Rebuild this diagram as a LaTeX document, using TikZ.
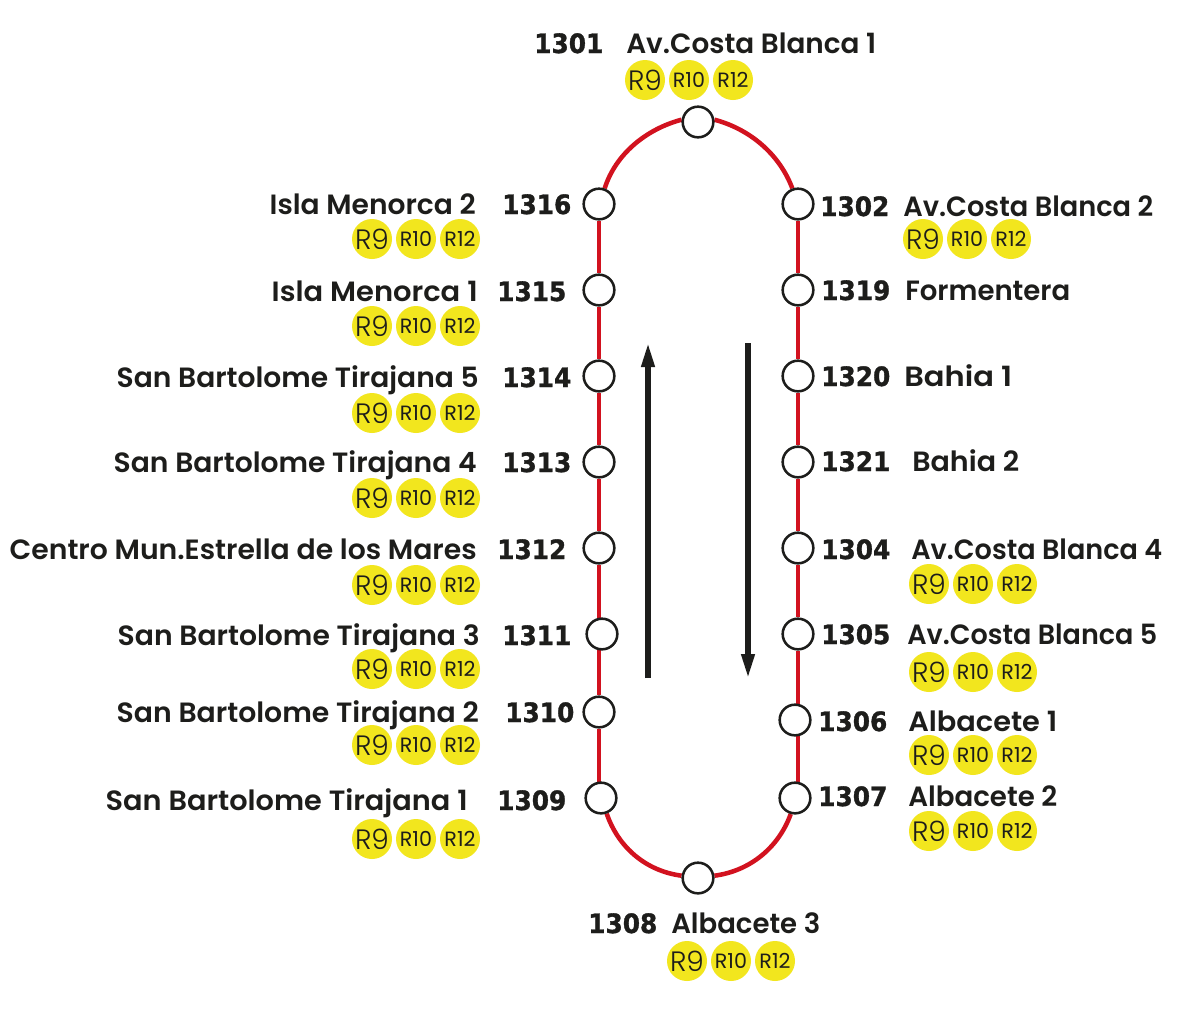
\documentclass[tikz,border=0pt]{standalone}
\usepackage{fontspec}
\usepackage{graphicx}
\setmainfont{Poppins}
\newfontfamily\namef[UprightFont={* SemiBold}]{Poppins}
\newfontfamily\numf[FakeStretch=0.93,FakeBold=1.2]{DejaVu Sans Bold}
\newfontfamily\pillf[UprightFont={* Light}]{Poppins}
\usetikzlibrary{arrows.meta,backgrounds}
\definecolor{trackred}{HTML}{D2121F}
\definecolor{pillyellow}{HTML}{F2E61E}
\definecolor{inkdark}{HTML}{1D1D1B}
\tikzset{
  x=0.75pt,y=-0.75pt,
  stop/.style={circle,draw=inkdark,fill=white,line width=1.9pt,minimum size=23pt,inner sep=0pt},
  track/.style={draw=trackred,line width=3.4pt},
  flow/.style={draw=inkdark,line width=3.8pt,-{Triangle[length=18pt,width=9.5pt]}},
  pill/.style={circle,fill=pillyellow,minimum size=30pt,inner sep=0pt,text=inkdark},
  nm/.style={font=\namef\fontsize{20.9}{24}\selectfont,text=inkdark,inner sep=0pt},
  nr/.style={font=\numf\fontsize{20}{24}\selectfont,text=inkdark,inner sep=0pt},
}
\newcommand{\pills}[3]{%
  \node[pill,font=\pillf\fontsize{21}{20}\selectfont] (p#1a) at (#2,#3) {R9};
  \node[pill,font=\fontsize{15.5}{16}\selectfont] (p#1b) at (#2+44,#3) {R10};
  \node[pill,font=\fontsize{15.5}{16}\selectfont] (p#1c) at (#2+88,#3) {R12};
}
% id, number left x, name anchor, name x, baseline, name width in px, name
\newcommand{\lab}[7]{%
  \node[nr,anchor=base west] (n#1) at (#2-1,#5-1) {#1};
  \node[nm,anchor=#3] (t#1) at (#4,#5-1) {\resizebox{#6\dimexpr 0.75pt\relax}{\height}{#7}};
}
\begin{document}
\begin{tikzpicture}
\useasboundingbox (0,0) rectangle (1194,1011);
% stops
\foreach \id/\px/\py in {1301/698/122,1316/599/204,1315/599/290,1314/599/376,1313/599/462,1312/599/548,1311/602/634,1310/599/712,1309/601/798,1308/698/878,1302/798/204,1319/798/290,1320/798/376,1321/798/462,1304/798/548,1305/798/634,1306/795/720,1307/795/798}
  {\node[stop] (s\id) at (\px,\py) {};}
\coordinate (tr1311) at (599,634);
\coordinate (tr1306) at (798,720);
\coordinate (tr1307) at (798,798);
\coordinate (tr1309) at (599,798);
\coordinate (upA) at (648,678);
\coordinate (upB) at (648,343);
\coordinate (dnA) at (748,343);
\coordinate (dnB) at (748,678);
\begin{pgfonlayer}{background}
  \fill[white] (0,0) rectangle (1194,1011);
  \draw[track] (s1316.70) .. controls (615.4,154.4) and (645.8,129.2) .. (s1301.172);
  \draw[track] (s1301.8) .. controls (750.2,129.2) and (779.6,154.4) .. (s1302.110);
  \draw[track] (s1302)--(s1319);
  \draw[track] (s1319)--(s1320);
  \draw[track] (s1320)--(s1321);
  \draw[track] (s1321)--(s1304);
  \draw[track] (s1304)--(s1305);
  \draw[track] (s1305)--(tr1306);
  \draw[track] (tr1306)--(tr1307);
  \draw[track] (s1307.-105) .. controls (778.6,847.6) and (750,871) .. (s1308.8);
  \draw[track] (s1308.172) .. controls (646,871) and (618.4,847.6) .. (s1309.-70);
  \draw[track] (tr1309)--(s1310);
  \draw[track] (s1310)--(tr1311);
  \draw[track] (tr1311)--(s1312);
  \draw[track] (s1312)--(s1313);
  \draw[track] (s1313)--(s1314);
  \draw[track] (s1314)--(s1315);
  \draw[track] (s1315)--(s1316);
\end{pgfonlayer}
\draw[flow] (upA)--(upB);
\draw[flow] (dnA)--(dnB);
% labels
\lab{1301}{535}{base west}{626}{54}{250}{Av.Costa Blanca 1}
\lab{1316}{503}{base east}{476}{215}{206}{Isla Menorca 2}
\lab{1315}{498}{base east}{478}{302}{206}{Isla Menorca 1}
\lab{1314}{503}{base east}{479}{388}{362}{San Bartolome Tirajana 5}
\lab{1313}{503}{base east}{477}{473}{363}{San Bartolome Tirajana 4}
\lab{1312}{498}{base east}{477}{560}{467}{Centro Mun.Estrella de los Mares}
\lab{1311}{503}{base east}{480}{646}{362}{San Bartolome Tirajana 3}
\lab{1310}{506}{base east}{479}{723}{362}{San Bartolome Tirajana 2}
\lab{1309}{498}{base east}{468}{811}{362}{San Bartolome Tirajana 1}
\lab{1302}{821}{base west}{903}{217}{250}{Av.Costa Blanca 2}
\lab{1319}{822}{base west}{905}{301}{165}{Formentera}
\lab{1320}{822}{base west}{904}{387}{108}{Bahia 1}
\lab{1321}{822}{base west}{912}{472}{107}{Bahia 2}
\lab{1304}{822}{base west}{911}{560}{251}{Av.Costa Blanca 4}
\lab{1305}{822}{base west}{907}{645}{250}{Av.Costa Blanca 5}
\lab{1306}{819}{base west}{908}{732}{149}{Albacete 1}
\lab{1307}{819}{base west}{908}{807}{149}{Albacete 2}
\lab{1308}{589}{base west}{671}{934}{149}{Albacete 3}
% route discs
\pills{1301}{645}{80}
\pills{1316}{372}{239}
\pills{1315}{372}{326}
\pills{1314}{372}{413}
\pills{1313}{372}{498}
\pills{1312}{372}{585}
\pills{1311}{372}{669}
\pills{1310}{372}{745}
\pills{1309}{372}{839}
\pills{1302}{923}{239}
\pills{1304}{929}{584}
\pills{1305}{929}{672}
\pills{1306}{929}{755}
\pills{1307}{929}{831}
\pills{1308}{687}{961}
\end{tikzpicture}
\end{document}
